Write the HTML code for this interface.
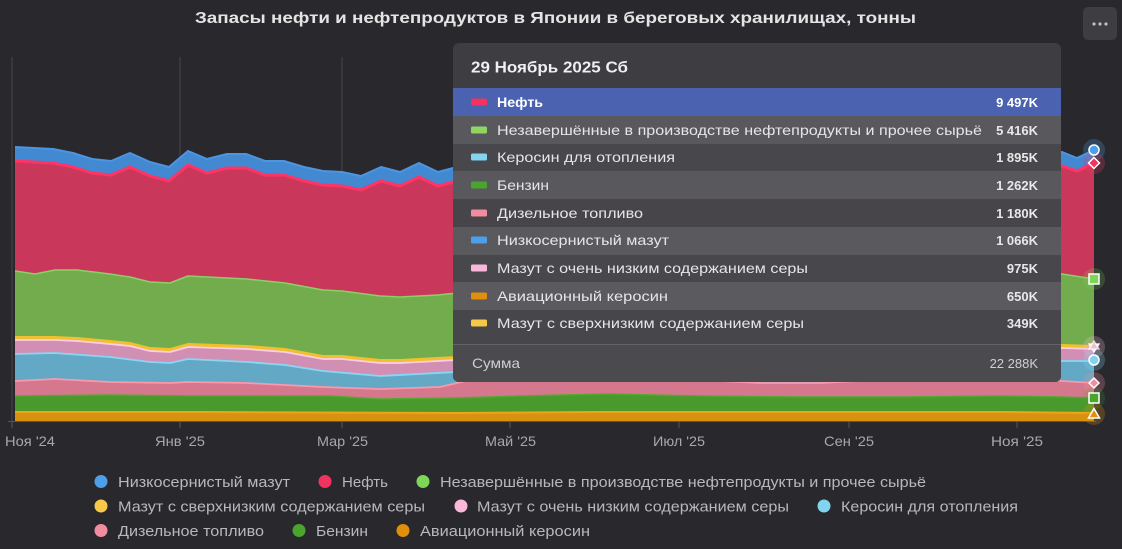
<!DOCTYPE html>
<html><head><meta charset="utf-8"><style>
html,body{margin:0;padding:0;background:#29292d;}
svg{display:block;}
text{font-family:"Liberation Sans","DejaVu Sans",sans-serif;}
</style></head><body>
<svg width="1122" height="549" viewBox="0 0 1122 549" xmlns="http://www.w3.org/2000/svg">
<rect x="0" y="0" width="1122" height="549" fill="#29292d"/>
<!-- title -->
<text x="195" y="23" font-size="16" font-weight="bold" fill="#e4e4e4" textLength="721" lengthAdjust="spacingAndGlyphs">Запасы нефти и нефтепродуктов в Японии в береговых хранилищах, тонны</text>
<!-- menu button -->
<rect x="1083" y="7" width="34" height="33" rx="5" fill="#3d3d42"/>
<circle cx="1094" cy="24" r="1.6" fill="#c0c0c0"/><circle cx="1100" cy="24" r="1.6" fill="#c0c0c0"/><circle cx="1106" cy="24" r="1.6" fill="#c0c0c0"/>
<!-- grid -->
<g stroke="#46464b" stroke-width="1">
<line x1="12" y1="57" x2="12" y2="421"/><line x1="180" y1="57" x2="180" y2="421"/><line x1="342" y1="57" x2="342" y2="421"/>
<line x1="510" y1="57" x2="510" y2="421"/><line x1="679" y1="57" x2="679" y2="421"/><line x1="849" y1="57" x2="849" y2="421"/><line x1="1017" y1="57" x2="1017" y2="421"/>
</g>
<g stroke="#55555a" stroke-width="1">
<line x1="12" y1="421" x2="12" y2="428"/><line x1="180" y1="421" x2="180" y2="428"/><line x1="342" y1="421" x2="342" y2="428"/>
<line x1="510" y1="421" x2="510" y2="428"/><line x1="679" y1="421" x2="679" y2="428"/><line x1="849" y1="421" x2="849" y2="428"/><line x1="1017" y1="421" x2="1017" y2="428"/>
<line x1="8" y1="421.5" x2="1096" y2="421.5"/>
</g>
<!-- areas -->
<g stroke-linejoin="round">
<polygon fill="#4289d2" points="15,147 34,148 53,149 73,153 92,159 111,161 130,153 150,162 169,167 188,151 207,159 227,154 246,154 265,161 284,161 304,167 323,171 342,172 361,176 381,167 400,172 419,163 438,172 457,167 500,168 560,170 620,166 700,168 780,165 860,163 940,160 1000,158 1043,154 1062,152 1077,158 1094,150 1094,421 15,421"/>
<polyline fill="none" stroke="#4c95e0" stroke-width="2" points="15,147 34,148 53,149 73,153 92,159 111,161 130,153 150,162 169,167 188,151 207,159 227,154 246,154 265,161 284,161 304,167 323,171 342,172 361,176 381,167 400,172 419,163 438,172 457,167 500,168 560,170 620,166 700,168 780,165 860,163 940,160 1000,158 1043,154 1062,152 1077,158 1094,150"/>

<polygon fill="#c9385a" points="15,161 34,162 53,163 73,167 92,173 111,175 130,167 150,176 169,181 188,165 207,173 227,168 246,168 265,175 284,175 304,181 323,185 342,186 361,190 381,181 400,186 419,177 438,186 457,181 500,182 560,184 620,180 700,182 780,179 860,177 940,174 1000,172 1043,168 1062,166 1077,171 1094,163 1094,421 15,421"/>
<polyline fill="none" stroke="#ff3464" stroke-width="3" points="15,161 34,162 53,163 73,167 92,173 111,175 130,167 150,176 169,181 188,165 207,173 227,168 246,168 265,175 284,175 304,181 323,185 342,186 361,190 381,181 400,186 419,177 438,186 457,181 500,182 560,184 620,180 700,182 780,179 860,177 940,174 1000,172 1043,168 1062,166 1077,171 1094,163"/>

<polygon fill="#72ac4d" points="15,271 35,274 55,270 77,270 110,274 130,277 150,282 170,283 188,276 208,277 247,279 285,283 323,290 342,291 380,296 400,297 438,295 457,293 500,292 600,288 700,286 800,283 900,280 1000,277 1062,274 1094,279 1094,421 15,421"/>
<polyline fill="none" stroke="#8ccf68" stroke-width="1.5" points="15,271 35,274 55,270 77,270 110,274 130,277 150,282 170,283 188,276 208,277 247,279 285,283 323,290 342,291 380,296 400,297 438,295 457,293 500,292 600,288 700,286 800,283 900,280 1000,277 1062,274 1094,279"/>

<polygon fill="#f0c030" points="15,336 55,336 77,337 110,340 130,342 150,347 170,348 188,343 247,345 285,348 323,355 342,355 380,359 400,359 457,356 500,356 600,354 700,352 800,350 900,348 1000,346 1062,344 1094,345 1094,421 15,421"/>

<polygon fill="#d190b3" points="15,340 55,340 77,341 110,344 130,346 150,351 170,352 188,347 247,349 285,352 323,359 342,359 380,363 400,363 457,360 500,360 600,358 700,356 800,354 900,352 1000,350 1062,348 1094,349 1094,421 15,421"/>
<polyline fill="none" stroke="#ffcde4" stroke-width="1.8" points="15,340 55,340 77,341 110,344 130,346 150,351 170,352 188,347 247,349 285,352 323,359 342,359 380,363 400,363 457,360 500,360 600,358 700,356 800,354 900,352 1000,350 1062,348 1094,349"/>

<polygon fill="#63a9c6" points="15,354 55,353 110,357 150,362 170,363 188,359 247,362 285,365 323,371 380,376 457,372 500,372 600,371 700,370 800,368 900,366 1000,363 1062,361 1094,361 1094,421 15,421"/>
<polyline fill="none" stroke="#88d6f6" stroke-width="1.8" points="15,354 55,353 110,357 150,362 170,363 188,359 247,362 285,365 323,371 380,376 457,372 500,372 600,371 700,370 800,368 900,366 1000,363 1062,361 1094,361"/>

<polygon fill="#d5788d" points="15,381 55,379 110,382 170,383 188,382 247,383 323,387 380,389 440,387 470,380 500,379 600,379 700,380 760,383 820,383 880,380 950,379 1040,379 1062,381 1094,383 1094,421 15,421"/>
<polyline fill="none" stroke="#fa98ad" stroke-width="1.8" points="15,381 55,379 110,382 170,383 188,382 247,383 323,387 380,389 440,387 470,380 500,379 600,379 700,380 760,383 820,383 880,380 950,379 1040,379 1062,381 1094,383"/>

<polygon fill="#4a992d" points="15,396 110,395 200,396 330,396 380,399 457,398 520,396 608,394 700,396 800,397 900,397 1000,396 1062,397 1094,398 1094,421 15,421"/>
<polyline fill="none" stroke="#52a833" stroke-width="1.5" points="15,396 110,395 200,396 330,396 380,399 457,398 520,396 608,394 700,396 800,397 900,397 1000,396 1062,397 1094,398"/>

<polygon fill="#d8920f" points="15,412 200,412 457,413 600,412 800,412 1000,412 1094,413 1094,421 15,421"/>
<polyline fill="none" stroke="#eea41a" stroke-width="2" points="15,412 200,412 457,413 600,412 800,412 1000,412 1094,413"/>
</g>
<!-- x labels -->
<g font-size="14" fill="#a8a8ac">
<text x="5" y="446" textLength="50" lengthAdjust="spacingAndGlyphs">Ноя '24</text>
<text x="155" y="446" textLength="50" lengthAdjust="spacingAndGlyphs">Янв '25</text>
<text x="317" y="446" textLength="51" lengthAdjust="spacingAndGlyphs">Мар '25</text>
<text x="485" y="446" textLength="51" lengthAdjust="spacingAndGlyphs">Май '25</text>
<text x="653" y="446" textLength="52" lengthAdjust="spacingAndGlyphs">Июл '25</text>
<text x="824" y="446" textLength="50" lengthAdjust="spacingAndGlyphs">Сен '25</text>
<text x="991" y="446" textLength="52" lengthAdjust="spacingAndGlyphs">Ноя '25</text>
</g>
<!-- end markers -->
<g>
<circle cx="1094" cy="150" r="11" fill="#4c9fe8" opacity="0.25"/>
<circle cx="1094" cy="163" r="11" fill="#f0335f" opacity="0.25"/>
<circle cx="1094" cy="279" r="11" fill="#7ed657" opacity="0.2"/>
<circle cx="1094" cy="347" r="11" fill="#f9b8d8" opacity="0.25"/>
<circle cx="1094" cy="360" r="11" fill="#80d4f0" opacity="0.25"/>
<circle cx="1094" cy="383" r="11" fill="#f28ca0" opacity="0.25"/>
<circle cx="1094" cy="398" r="11" fill="#4aa52e" opacity="0.2"/>
<circle cx="1094" cy="414" r="11" fill="#e08e0b" opacity="0.25"/>
<circle cx="1094" cy="150" r="5" fill="#4c9fe8" stroke="#fff" stroke-width="1.5"/>
<polygon points="1094,157.5 1099.5,163 1094,168.5 1088.5,163" fill="#f0335f" stroke="#fff" stroke-width="1.5"/>
<rect x="1089" y="274" width="10" height="10" fill="#7ed657" stroke="#fff" stroke-width="1.5"/>
<polygon points="1089,344 1099,344 1094,352" fill="#f9b8d8" stroke="#fff" stroke-width="1.3"/>
<polygon points="1094,341 1099,349 1089,349" fill="#f9b8d8" stroke="#fff" stroke-width="1.3" opacity="0.8"/>
<circle cx="1094" cy="360" r="5" fill="#80d4f0" stroke="#fff" stroke-width="1.5"/>
<polygon points="1094,378 1099,383 1094,388 1089,383" fill="#f28ca0" stroke="#fff" stroke-width="1.5"/>
<rect x="1089" y="393" width="10" height="10" fill="#4aa52e" stroke="#fff" stroke-width="1.5"/>
<polygon points="1094,408.5 1099.5,418 1088.5,418" fill="#e08e0b" stroke="#fff" stroke-width="1.5"/>
</g>
<!-- tooltip -->
<defs><clipPath id="tt"><rect x="453" y="43" width="608" height="339" rx="6"/></clipPath></defs>
<g clip-path="url(#tt)">
<rect x="453" y="43" width="608" height="339" fill="#3d3d42"/>
<rect x="453" y="88" width="608" height="28" fill="#4a62b0"/>
<rect x="453" y="116" width="608" height="28" fill="#58585d"/>
<rect x="453" y="144" width="608" height="27" fill="#47474c"/>
<rect x="453" y="171" width="608" height="28" fill="#58585d"/>
<rect x="453" y="199" width="608" height="28" fill="#48454a"/>
<rect x="453" y="227" width="608" height="28" fill="#59595e"/>
<rect x="453" y="255" width="608" height="27" fill="#47474c"/>
<rect x="453" y="282" width="608" height="28" fill="#5a5a5f"/>
<rect x="453" y="310" width="608" height="34" fill="#46464b"/>
<rect x="453" y="344" width="608" height="1.2" fill="#626267"/>
<rect x="453" y="345" width="608" height="37" fill="#4a4a4f"/>
</g>
<text x="471" y="72.5" font-size="16" font-weight="bold" fill="#f0f0f0" textLength="157" lengthAdjust="spacingAndGlyphs">29 Ноябрь 2025 Сб</text>
<g>
<rect x="471" y="98.5" width="16" height="7" rx="1.5" fill="#f0335f"/>
<rect x="471" y="126.5" width="16" height="7" rx="1.5" fill="#8ed65e"/>
<rect x="471" y="153.5" width="16" height="7" rx="1.5" fill="#80d4f0"/>
<rect x="471" y="181.5" width="16" height="7" rx="1.5" fill="#4aa52e"/>
<rect x="471" y="209.5" width="16" height="7" rx="1.5" fill="#f28ca0"/>
<rect x="471" y="236.5" width="16" height="7" rx="1.5" fill="#4c9fe8"/>
<rect x="471" y="264.5" width="16" height="7" rx="1.5" fill="#f9b8d8"/>
<rect x="471" y="292.5" width="16" height="7" rx="1.5" fill="#e08e0b"/>
<rect x="471" y="319.5" width="16" height="7" rx="1.5" fill="#f7c948"/>
</g>
<g font-size="14" fill="#e6e6e6">
<text x="497" y="107" font-weight="bold" fill="#ffffff" textLength="46" lengthAdjust="spacingAndGlyphs">Нефть</text>
<text x="497" y="135" textLength="485" lengthAdjust="spacingAndGlyphs">Незавершённые в производстве нефтепродукты и прочее сырьё</text>
<text x="497" y="162" textLength="178" lengthAdjust="spacingAndGlyphs">Керосин для отопления</text>
<text x="497" y="190" textLength="52" lengthAdjust="spacingAndGlyphs">Бензин</text>
<text x="497" y="218" textLength="146" lengthAdjust="spacingAndGlyphs">Дизельное топливо</text>
<text x="497" y="245" textLength="172" lengthAdjust="spacingAndGlyphs">Низкосернистый мазут</text>
<text x="497" y="273" textLength="311" lengthAdjust="spacingAndGlyphs">Мазут с очень низким содержанием серы</text>
<text x="497" y="301" textLength="171" lengthAdjust="spacingAndGlyphs">Авиационный керосин</text>
<text x="497" y="328" textLength="307" lengthAdjust="spacingAndGlyphs">Мазут с сверхнизким содержанием серы</text>
<text x="472" y="368" fill="#cfcfd2" textLength="48" lengthAdjust="spacingAndGlyphs">Сумма</text>
</g>
<g font-size="13" font-weight="bold" fill="#e8e8e8" text-anchor="end" font-family="'DejaVu Sans Mono','Liberation Mono',monospace">
<text x="1038" y="107" fill="#ffffff">9 497K</text>
<text x="1038" y="135">5 416K</text>
<text x="1038" y="162">1 895K</text>
<text x="1038" y="190">1 262K</text>
<text x="1038" y="218">1 180K</text>
<text x="1038" y="245">1 066K</text>
<text x="1038" y="273">975K</text>
<text x="1038" y="301">650K</text>
<text x="1038" y="328">349K</text>
<text x="1038" y="368" font-weight="normal" fill="#d0d0d3">22 288K</text>
</g>
<!-- legend -->
<g>
<circle cx="101" cy="481.5" r="6.5" fill="#4c9fe8"/>
<circle cx="325" cy="481.5" r="6.5" fill="#f0335f"/>
<circle cx="423" cy="481.5" r="6.5" fill="#7ed657"/>
<circle cx="101" cy="506" r="6.5" fill="#f7c948"/>
<circle cx="461" cy="506" r="6.5" fill="#f9b8d8"/>
<circle cx="824" cy="506" r="6.5" fill="#80d4f0"/>
<circle cx="101" cy="530.5" r="6.5" fill="#f28ca0"/>
<circle cx="299" cy="530.5" r="6.5" fill="#4aa52e"/>
<circle cx="403" cy="530.5" r="6.5" fill="#e08e0b"/>
</g>
<g font-size="15" fill="#b8b8bc">
<text x="118" y="487" textLength="172" lengthAdjust="spacingAndGlyphs">Низкосернистый мазут</text>
<text x="342" y="487" textLength="46" lengthAdjust="spacingAndGlyphs">Нефть</text>
<text x="440" y="487" textLength="486" lengthAdjust="spacingAndGlyphs">Незавершённые в производстве нефтепродукты и прочее сырьё</text>
<text x="118" y="511.5" textLength="307" lengthAdjust="spacingAndGlyphs">Мазут с сверхнизким содержанием серы</text>
<text x="477" y="511.5" textLength="312" lengthAdjust="spacingAndGlyphs">Мазут с очень низким содержанием серы</text>
<text x="841" y="511.5" textLength="177" lengthAdjust="spacingAndGlyphs">Керосин для отопления</text>
<text x="118" y="536" textLength="146" lengthAdjust="spacingAndGlyphs">Дизельное топливо</text>
<text x="316" y="536" textLength="52" lengthAdjust="spacingAndGlyphs">Бензин</text>
<text x="420" y="536" textLength="170" lengthAdjust="spacingAndGlyphs">Авиационный керосин</text>
</g>
</svg>
</body></html>
